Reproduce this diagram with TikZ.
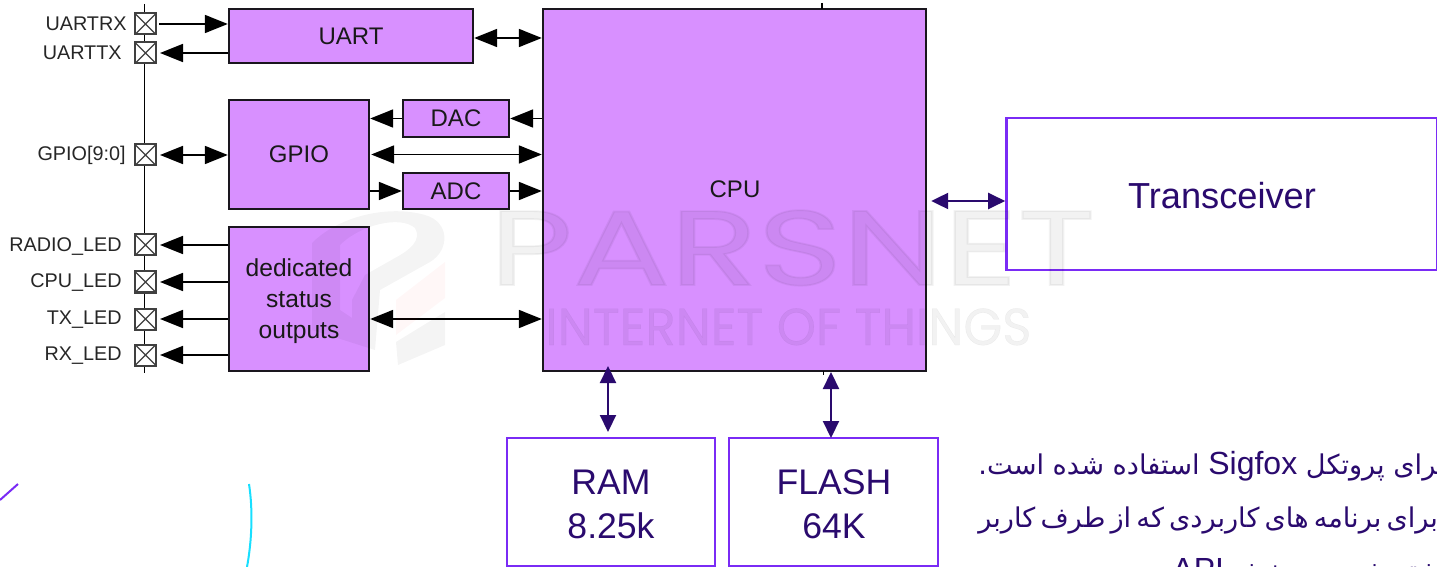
\documentclass[tikz,border=0pt]{standalone}
\usepackage{fontspec}
\setmainfont{Liberation Sans}
\newfontfamily\arabicfont[Script=Arabic]{DejaVu Sans}
\newfontfamily\markfont[FakeBold=1.6]{Poppins}
\newfontfamily\subfont[FakeBold=.6]{Poppins}
\TeXXeTstate=1
\usetikzlibrary{arrows.meta}
\definecolor{blockfill}{HTML}{D890FF}
\definecolor{blockline}{HTML}{1A161E}
\definecolor{memedge}{HTML}{7A2BF5}
\definecolor{inkblue}{HTML}{2A0A6E}
\definecolor{arcblue}{HTML}{18DFFF}
\newcommand{\latinword}[1]{\beginL{\rmfamily\fontsize{16}{16}\selectfont #1}\endL}
\tikzset{
  blockbox/.style={draw=blockline,fill=blockfill,line width=1.2pt,inner sep=0pt,align=center,text=black!90,font=\fontsize{12}{15.5}\selectfont},
  membox/.style={draw=memedge,line width=1.3pt,inner sep=0pt},
  memtext/.style={inner sep=0pt,align=center,text=inkblue,font=\fontsize{17.8}{22}\selectfont},
  padbox/.style={draw=black!75,fill=white,line width=1pt,minimum size=10.5pt,inner sep=0pt,
    path picture={\draw[black!75,line width=.6pt] (path picture bounding box.north west) -- (path picture bounding box.south east)
      (path picture bounding box.north east) -- (path picture bounding box.south west);}},
  padlabel/.style={anchor=east,inner sep=0pt,text=black!85,font=\fontsize{9.9}{12}\selectfont},
  sigline/.style={line width=.9pt,black,{Triangle[length=11.5pt,width=9pt]}-{Triangle[length=11.5pt,width=9pt]}},
  sigone/.style={line width=.9pt,black,-{Triangle[length=11.5pt,width=9pt]}},
  memarrow/.style={line width=1.1pt,inkblue,{Triangle[length=8.5pt,width=8pt]}-{Triangle[length=8.5pt,width=8pt]}},
  fatext/.style={anchor=base west,inner sep=0pt,text=inkblue,font=\arabicfont\fontsize{13.6}{16}\selectfont},
  markshape/.style={black,opacity=.045},
}
\begin{document}
\begin{tikzpicture}[x=0.5pt,y=0.5pt,yscale=-1,xscale=1]
\useasboundingbox (0,0) rectangle (1437,567);
\clip (0,0) rectangle (1437,567);

%Bus line
\coordinate (bustop) at (144.5,4);
\coordinate (busbottom) at (144.5,373);
\draw[line width=.9pt] (bustop) -- (busbottom);

% Pads
\node[padbox] (uartrx) at (145.5,24) {};
\node[padbox] (uarttx) at (145.5,53) {};
\node[padbox] (gpiopad) at (145.5,155) {};
\node[padbox] (radioled) at (145.5,245) {};
\node[padbox] (cpuled) at (145.5,282) {};
\node[padbox] (txled) at (145.5,319) {};
\node[padbox] (rxled) at (145.5,355) {};

% Text Node
\node[padlabel] (uartrxlabel) at (127,24) {UARTRX};
\node[padlabel] (uarttxlabel) at (122,53) {UARTTX};
\node[padlabel] (gpiolabel) at (126,155) {GPIO[9:0]};
\node[padlabel] (radiolabel) at (122,247) {RADIO\_LED};
\node[padlabel] (cpuledlabel) at (122,283) {CPU\_LED};
\node[padlabel] (txlabel) at (122,320) {TX\_LED};
\node[padlabel] (rxlabel) at (122,356) {RX\_LED};

% Blocks
\node[blockbox,minimum width=122pt,minimum height=27pt] (uart) at (351,36) {UART};
\node[blockbox,minimum width=70pt,minimum height=54.5pt] (gpio) at (299,154.5) {GPIO};
\node[blockbox,minimum width=70pt,minimum height=72pt] (status) at (299,299) {};
\node[blockbox,minimum width=53pt,minimum height=18.5pt] (dac) at (456,118.5) {DAC};
\node[blockbox,minimum width=53pt,minimum height=18pt] (adc) at (456,191) {ADC};
\node[blockbox,minimum width=191.5pt,minimum height=181pt] (cpu) at (734.5,190) {};
\node[inner sep=0pt,text=black!90,font=\fontsize{12}{15.5}\selectfont] (cputext) at (735,189) {CPU};
\node[inner sep=0pt,align=center,text=black!90,font=\fontsize{12.3}{15.5}\selectfont] (statustext) at (299,301) {dedicated\\status\\outputs};

% Memory and radio
\node[membox,minimum width=215.5pt,minimum height=76pt] (radio) at (1222,194) {};
\node[membox,minimum width=104pt,minimum height=64pt] (ram) at (611,502) {};
\node[membox,minimum width=104.5pt,minimum height=64pt] (flash) at (833.5,502) {};
\node[memtext,font=\fontsize{18.1}{22}\selectfont] (radiotext) at (1222,196) {Transceiver};
\node[memtext] (ramtext) at (611,504) {RAM\\8.25k};
\node[memtext] (flashtext) at (834,504) {FLASH\\64K};

% Pad connectors
\draw[sigone] ([xshift=1pt]uartrx.east) -- (uartrx -| uart.west);
\draw[sigone] (uarttx -| uart.west) -- ([xshift=1.5pt]uarttx.east);
\draw[sigline] ([xshift=1.5pt]gpiopad.east) -- (gpiopad -| gpio.west);
\draw[sigone] (radioled -| status.west) -- ([xshift=1.5pt]radioled.east);
\draw[sigone] (cpuled -| status.west) -- ([xshift=1.5pt]cpuled.east);
\draw[sigone] (txled -| status.west) -- ([xshift=1.5pt]txled.east);
\draw[sigone] (rxled -| status.west) -- ([xshift=1.5pt]rxled.east);

% Block connectors
\draw[sigline] ([yshift=1pt]uart.east) -- ([yshift=1pt]uart.east -| cpu.west);
\draw[sigone] (dac.west) -- (dac.west -| gpio.east);
\draw[sigone] (dac.east -| cpu.west) -- (dac.east);
\draw[sigline] ([xshift=.5pt]gpio.east) -- (gpio.east -| cpu.west);
\draw[sigone] (adc.west -| gpio.east) -- (adc.west);
\draw[sigone] (adc.east) -- (adc.east -| cpu.west);
\draw[sigline] (txled -| status.east) -- (txled -| cpu.west);

% Indigo connectors
\coordinate (ramtop) at (608,366);
\coordinate (ramend) at (608,432);
\coordinate (flashtop) at (831,372);
\coordinate (flashend) at (831,438);
\draw[memarrow] (ramtop) -- (ramend);
\draw[memarrow] (flashtop) -- (flashend);
\draw[memarrow] ([xshift=2pt,yshift=5.5pt]cpu.east) -- ([yshift=5.5pt]cpu.east -| radio.west);

% Small ticks on the CPU
\draw[line width=.6pt] (822,3) -- (822,9);
\draw[line width=.5pt] (823,371) -- (823,375);

% Persian text
\node[fatext] (faone) at (978,474) {\beginR برای پروتکل \latinword{Sigfox} استفاده شده است.\endR};
\node[fatext] (fatwo) at (978,527) {\spaceskip=.19em\beginR برای برنامه های کاربردی که از طرف کاربر\endR};
\node[fatext] (fathree) at (1172,580) {\beginR نوشته شده در بخش \latinword{API}\endR};

% Corner strokes
\draw[color=memedge,line width=1pt] (0,500) -- (18,484);
\draw[color=arcblue,line width=1pt] (249,484) .. controls (253,510) and (252,540) .. (247,567);

% Watermark
\node[text=black,opacity=.05,inner sep=0pt,anchor=base west,font=\markfont\fontsize{53}{53}\selectfont] (markone) at (489,285) {\scalebox{1.36}[1]{PARSNET}};
\node[text=black,opacity=.05,inner sep=0pt,anchor=base west,font=\subfont\fontsize{26}{26}\selectfont] (marktwo) at (545,345) {\scalebox{.96}[1]{INTERNET OF THINGS}};
\fill[markshape,even odd rule] (312,243) .. controls (340,215) and (390,205) .. (425,215) .. controls (450,222) and (450,250) .. (430,262) -- (380,290) -- (375,350) -- (312,330) -- cycle
  (340,245) .. controls (360,225) and (400,215) .. (415,228) .. controls (422,240) and (410,250) .. (395,258) -- (365,275) -- (352,300) -- (352,318) -- (340,310) -- cycle;
\fill[red,opacity=.03] (396,300) -- (445,262) -- (445,298) -- (396,335) -- cycle;
\fill[markshape] (396,342) -- (445,312) -- (445,345) -- (398,365) -- cycle;
\end{tikzpicture}
\end{document}
